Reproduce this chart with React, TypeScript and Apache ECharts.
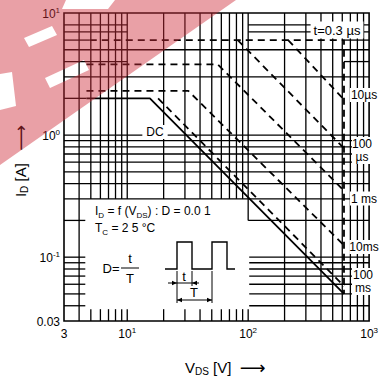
import React, { useEffect, useRef } from "react";
import * as echarts from "echarts";

// ---------------- data ----------------
const xTickValues = [3, 10, 100, 1000]; // V_DS axis labels
const yTickValues = [0.03, 0.1, 1, 10]; // I_D axis labels
const vGridLines = [4, 5, 6, 7, 8, 9, 10, 20, 30, 40, 50, 60, 70, 80, 90, 100, 200, 300, 400, 500, 600, 700, 800, 900];
const iGridLines = [0.04, 0.05, 0.06, 0.07, 0.08, 0.09, 0.1, 0.2, 0.3, 0.4, 0.5, 0.6, 0.7, 0.8, 0.9, 1, 2, 3, 4, 5, 6, 7, 8];

const curveNames = ["t=0.3 µs", "10µs", "100 µs", "1 ms", "10ms", "100 ms", "DC"];
const soa03us = [[4.9, 6], [620, 6], [620, 0.05]];
const soa10us = [[214, 6], [620, 1.95]];
const soa100us = [[82, 6], [620, 0.78]];
const soa1ms = [[4.6, 3.8], [56, 3.8], [620, 0.35]];
const soa10ms = [[4.6, 2.3], [32, 2.3], [620, 0.125]];
const soa100ms = [[18, 2], [620, 0.058]];
const soaDC = [[4.6, 2], [15.4, 2], [620, 0.05]];

// ---------------- layout ----------------
const V0 = 3, V1 = 1000, I0 = 0.03, I1 = 10;
const BOX_V = 4.5;
const BOX_I = 0.3;
const TICK_I = 0.0375;
const FONT = '"Liberation Sans", Arial, sans-serif';

const WM_PATH =
  "M0 0 L66 0 L62 9 L108 9 L115 0 L236 0 L0 165 L0 110 L16 106 L12 72 L0 74 Z " +
  "M24 38 L29 47 L57 35 L52 26 Z M45 78 L50 88 L89 70 L84 60 Z";

let registered = false;
function ensureShapes() {
  if (registered) return;
  registered = true;
  echarts.graphic.registerShape("wmark", echarts.graphic.extendPath(WM_PATH, {}) as any);
}

function gridSegments(): number[][][] {
  const s: number[][][] = [];
  const vl = (v: number, a: number, b: number) => s.push([[v, a], [v, b]]);
  const hl = (i: number, a: number, b: number) => s.push([[a, i], [b, i]]);
  for (const v of vGridLines) {
    if (v === 4 || v >= 200) vl(v, I0, I1);
    else {
      vl(v, v === 100 ? 0.2 : BOX_I, I1);
      vl(v, I0, TICK_I);
    }
  }
  for (const i of iGridLines) {
    if (i === 8 || i === 7) { hl(i, V0, 10); hl(i, 100, V1); }
    else if (i === 6) { hl(i, V0, 4.9); hl(i, 620, V1); }
    else if (i === 4) { hl(i, V0, 10); hl(i, 620, V1); }
    else if (i === 2) { hl(i, V0, 4.6); }
    else if (i >= 0.3) hl(i, V0, V1);
    else if (i === 0.2) { hl(i, V0, BOX_V); hl(i, 100, V1); }
    else { hl(i, V0, BOX_V); hl(i, 102, V1); }
  }
  return s;
}

const supRich = {
  n: { fontSize: 12, fontFamily: FONT, color: "#000", lineHeight: 14, verticalAlign: "bottom" },
  sup: { fontSize: 8, fontFamily: FONT, color: "#000", lineHeight: 8, verticalAlign: "top" },
};

function curve(name: string, data: number[][], dashed: boolean) {
  return {
    type: "line",
    name,
    data,
    symbol: "none",
    z: 3,
    silent: true,
    lineStyle: { color: "#000", width: 1.8, type: dashed ? [7, 5] : "solid" },
  };
}

function txt(x: number, y: number, text: string, opts: any = {}) {
  return {
    type: "text",
    x,
    y,
    z: 50,
    silent: true,
    style: {
      text,
      fill: "#000",
      font: `${opts.size || 12}px ${FONT}`,
      align: opts.align || "center",
      verticalAlign: "middle",
      backgroundColor: opts.bg,
      padding: opts.pad,
      lineHeight: opts.lh,
      rich: opts.rich,
    },
  };
}

function line(x1: number, y1: number, x2: number, y2: number, w = 1.2) {
  return { type: "line", z: 50, silent: true, shape: { x1, y1, x2, y2 }, style: { stroke: "#000", lineWidth: w } };
}

function head(x: number, y: number, dir: number) {
  return {
    type: "polygon",
    z: 50,
    silent: true,
    shape: { points: [[x, y], [x - dir * 5, y - 2.2], [x - dir * 5, y + 2.2]] },
    style: { fill: "#000" },
  };
}

function whiteBox(x: number, y: number, w: number, h: number) {
  return { type: "rect", z: 49, silent: true, shape: { x, y, width: w, height: h }, style: { fill: "#fff" } };
}

export default function App() {
  const ref = useRef<HTMLDivElement>(null);
  useEffect(() => {
    document.body.style.margin = "0";
    ensureShapes();
    const chart = echarts.init(ref.current!, null, { renderer: "svg" });
    const segs = gridSegments();
    const subRich = {
      n: { fontSize: 12, fontFamily: FONT, color: "#000", lineHeight: 14, verticalAlign: "top" },
      s: { fontSize: 8, fontFamily: FONT, color: "#000", lineHeight: 14, verticalAlign: "bottom" },
    };
    const titleRich = {
      n: { fontSize: 15, fontFamily: FONT, color: "#000", lineHeight: 18 },
      s: { fontSize: 10, fontFamily: FONT, color: "#000", lineHeight: 18, verticalAlign: "bottom" },
      ar: { fontSize: 18, fontFamily: '"DejaVu Sans"', color: "#000", lineHeight: 18 },
    };
    const option: any = {
      animation: false,
      backgroundColor: "#fff",
      grid: { left: 64, top: 13, width: 312, height: 308, containLabel: false },
      xAxis: {
        type: "log",
        logBase: 10,
        min: V0,
        max: V1,
        axisLine: { show: false },
        axisTick: { show: false },
        splitLine: { show: false },
        axisLabel: {
          margin: 5,
          showMinLabel: true,
          showMaxLabel: true,
          formatter: (v: number) => {
            if (Math.abs(v - xTickValues[0]) < 1e-6) return "{n|3}";
            const e = Math.round(Math.log10(v));
            return `{n|10}{sup|${e}}`;
          },
          rich: supRich,
        },
      },
      yAxis: {
        type: "log",
        logBase: 10,
        min: I0,
        max: I1,
        axisLine: { show: false },
        axisTick: { show: false },
        splitLine: { show: false },
        axisLabel: {
          margin: 4,
          showMinLabel: true,
          showMaxLabel: true,
          formatter: (v: number) => {
            if (Math.abs(v - yTickValues[0]) < 1e-6) return "{n|0.03}";
            const e = Math.round(Math.log10(v));
            return `{n|10}{sup|${e}}`;
          },
          rich: supRich,
        },
      },
      series: [
        {
          type: "custom",
          coordinateSystem: "cartesian2d",
          data: [[V0, I0]],
          z: 1,
          silent: true,
          clip: false,
          renderItem: (_p: any, api: any) => {
            const children: any[] = segs.map(([p, q]) => {
              const a = api.coord(p);
              const b = api.coord(q);
              return {
                type: "line",
                shape: { x1: a[0], y1: a[1], x2: b[0], y2: b[1] },
                style: { stroke: "#000", lineWidth: 1.3 },
              };
            });
            const tl = api.coord([V0, I1]);
            const br = api.coord([V1, I0]);
            children.push({
              type: "rect",
              shape: { x: tl[0], y: tl[1], width: br[0] - tl[0], height: br[1] - tl[1] },
              style: { fill: "none", stroke: "#000", lineWidth: 1.6 },
            });
            return { type: "group", children };
          },
        },
        curve(curveNames[0], soa03us, true),
        curve(curveNames[1], soa10us, true),
        curve(curveNames[2], soa100us, true),
        curve(curveNames[3], soa1ms, true),
        curve(curveNames[4], soa10ms, true),
        curve(curveNames[5], soa100ms, true),
        curve(curveNames[6], soaDC, false),
      ],
      graphic: [
        // label backgrounds
        whiteBox(352, 137, 22, 27),
        whiteBox(352, 268, 22, 27),
        // curve labels
        txt(337, 30, curveNames[0], { size: 13, bg: "#fff", pad: [2, 3] }),
        txt(364, 95, curveNames[1], { size: 12, bg: "#fff", pad: [1, 1] }),
        txt(362, 144, "100", { size: 12 }),
        txt(362, 157, "µs", { size: 12 }),
        txt(364, 198.5, curveNames[3], { size: 12, bg: "#fff", pad: [1, 1] }),
        txt(364, 247, curveNames[4], { size: 12, bg: "#fff", pad: [1, 0] }),
        txt(363, 275, "100", { size: 12 }),
        txt(363, 288, "ms", { size: 12 }),
        txt(155, 132, curveNames[6], { size: 12, bg: "#fff", pad: [1, 4] }),
        // inset text
        txt(95, 212, "{n|I}{s|D}{n| = f (V}{s|DS}{n|) : D = 0.0 1}", { align: "left", rich: subRich }),
        txt(95, 229, "{n|T}{s|C}{n| = 2 5 °C}", { align: "left", rich: subRich }),
        txt(111, 268, "D=", { size: 13 }),
        txt(130, 258, "t", { size: 13 }),
        txt(130, 278, "T", { size: 13 }),
        line(121, 268, 139, 268, 1),
        // pulse waveform
        {
          type: "polyline",
          z: 50,
          silent: true,
          shape: {
            points: [[165, 269], [177, 269], [177, 242], [192, 242], [192, 269], [212, 269], [212, 242], [227, 242], [227, 269], [235, 269]],
          },
          style: { stroke: "#000", lineWidth: 1.4, fill: "none" },
        },
        line(177, 271, 177, 303, 1),
        line(192, 271, 192, 286, 1),
        line(212, 271, 212, 303, 1),
        line(168, 283, 199, 283, 1),
        head(177, 283, 1),
        head(192, 283, -1),
        txt(184, 276, "t", { size: 13 }),
        line(177, 300, 212, 300, 1),
        head(177, 300, -1),
        head(212, 300, 1),
        txt(194, 292, "T", { size: 13 }),
        // axis titles
        {
          type: "text",
          x: 185,
          y: 367,
          z: 50,
          silent: true,
          style: {
            text: "{n|V}{s|DS}{n| [V]  }{ar|⟶}",
            align: "left",
            verticalAlign: "middle",
            rich: titleRich,
          },
        },
        {
          type: "text",
          x: 20,
          y: 161,
          rotation: Math.PI / 2,
          z: 50,
          silent: true,
          style: {
            text: "{n|I}{s|D}{n| [A]   }{ar|⟶}",
            align: "center",
            verticalAlign: "middle",
            rich: titleRich,
          },
        },
        // watermark
        { type: "wmark", x: 0, y: 0, z: 200, silent: true, style: { fill: "rgba(207,44,58,0.45)" } },
      ],
    };
    chart.setOption(option);
    return () => chart.dispose();
  }, []);
  return <div ref={ref} style={{ width: 381, height: 381 }} />;
}
